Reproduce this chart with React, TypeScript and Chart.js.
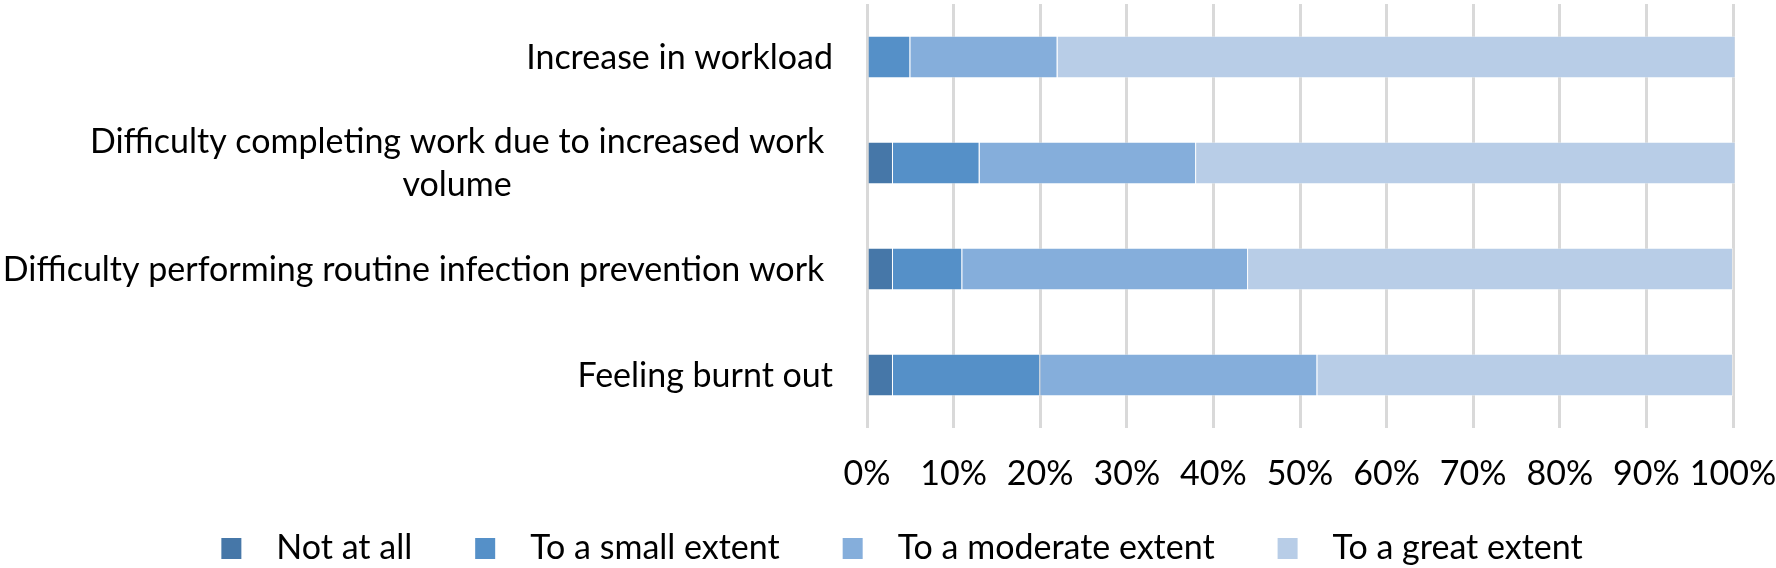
import React, { useEffect, useRef } from "react";
import { Chart, registerables } from "chart.js";

Chart.register(...registerables);

const categories: (string | string[])[] = [
  "Increase in workload",
  ["Difficulty completing work due to increased work ", "volume"],
  "Difficulty performing routine infection prevention work ",
  "Feeling burnt out",
];

const seriesNames = ["Not at all", "To a small extent", "To a moderate extent", "To a great extent"];
const notAtAll = [0, 3, 3, 3];
const smallExtent = [5, 10, 8, 17];
const moderateExtent = [17, 25, 33, 32];
const greatExtent = [78.3, 62.3, 56, 48];
const seriesColors = ["#4677A8", "#5590C8", "#85AEDB", "#B8CDE7"];
const xTickMin = 0;
const xTickMax = 100;
const xTickStep = 10;

const FONT = "Lato";
const FONT_SIZE = 34;

const yLabelPlugin = {
  id: "yLabelPlugin",
  afterDraw(chart: any) {
    const ctx = chart.ctx as CanvasRenderingContext2D;
    const yScale = chart.scales.y;
    ctx.save();
    ctx.font = `${FONT_SIZE}px ${FONT}`;
    ctx.fillStyle = "#000000";
    ctx.textAlign = "left";
    ctx.textBaseline = "alphabetic";
    const right = chart.chartArea.left - 34;
    const lh = 43;
    (chart.data.labels as (string | string[])[]).forEach((lab, i) => {
      const lines = Array.isArray(lab) ? lab : [lab];
      const cy = yScale.getPixelForTick(i);
      if (lines.length === 1) {
        const w = ctx.measureText(lines[0]).width;
        ctx.fillText(lines[0], right - w, cy + 11.5);
        return;
      }
      const first = lines[0];
      const trimmed = first.replace(/\s+$/, "");
      const fullW = ctx.measureText(first).width;
      const trimW = ctx.measureText(trimmed).width;
      const left = right - fullW;
      const centerX = left + trimW / 2;
      lines.forEach((l, j) => {
        const ly = cy + (j - (lines.length - 1) / 2) * lh + 11.5;
        const w = ctx.measureText(l.replace(/\s+$/, "")).width;
        ctx.fillText(l, centerX - w / 2, ly);
      });
    });
    ctx.restore();
  },
};

const legendPlugin = {
  id: "customLegend",
  afterDraw(chart: any) {
    const ctx = chart.ctx as CanvasRenderingContext2D;
    ctx.save();
    ctx.font = `${FONT_SIZE}px ${FONT}`;
    ctx.textAlign = "left";
    ctx.textBaseline = "alphabetic";
    const markerW = 20;
    const markerH = 21;
    const textOffset = 55;
    const gap = 63;
    const items = chart.data.datasets.map((d: any) => ({
      label: d.label as string,
      color: d.backgroundColor as string,
      w: ctx.measureText(d.label).width,
    }));
    let total = 0;
    items.forEach((it: any, i: number) => {
      total += textOffset + it.w + (i < items.length - 1 ? gap : 0);
    });
    const center = 902;
    let x = center - total / 2;
    const baseline = 559;
    items.forEach((it: any) => {
      ctx.fillStyle = it.color;
      ctx.fillRect(x, baseline - markerH, markerW, markerH);
      ctx.fillStyle = "#000000";
      ctx.fillText(it.label, x + textOffset, baseline);
      x += textOffset + it.w + gap;
    });
    ctx.restore();
  },
};

export default function App() {
  const canvasRef = useRef<HTMLCanvasElement | null>(null);

  useEffect(() => {
    document.body.style.margin = "0";
    const canvas = canvasRef.current;
    if (!canvas) return;
    const seriesData = [notAtAll, smallExtent, moderateExtent, greatExtent];
    const chart = new Chart(canvas, {
      type: "bar",
      data: {
        labels: categories,
        datasets: seriesNames.map((name, i) => ({
          label: name,
          data: seriesData[i],
          backgroundColor: seriesColors[i],
          borderColor: "rgba(255,255,255,0.35)",
          borderWidth: 1,
          barPercentage: 0.4,
          categoryPercentage: 1,
          clip: false as any,
        })),
      },
      options: {
        indexAxis: "y",
        responsive: false,
        animation: false,
        maintainAspectRatio: false,
        layout: { padding: { left: 0, right: 43, top: 4, bottom: 72 } },
        plugins: {
          legend: { display: false },
          tooltip: { enabled: false },
          title: { display: false },
        },
        scales: {
          x: {
            stacked: true,
            min: xTickMin,
            max: xTickMax,
            ticks: {
              stepSize: xTickStep,
              callback: (v: any) => `${v}%`,
              color: "#000000",
              font: { family: FONT, size: FONT_SIZE },
              padding: 26,
              maxRotation: 0,
              autoSkip: false,
            },
            grid: { color: "#D9D9D9", lineWidth: 3, drawTicks: false },
            border: { display: false },
            afterFit: (scale: any) => {
              scale.paddingLeft = 0;
              scale.paddingRight = 0;
              scale.height = 68;
            },
          },
          y: {
            stacked: true,
            ticks: { display: false },
            grid: { display: false },
            border: { display: false },
            afterFit: (scale: any) => {
              scale.width = 867;
            },
          },
        },
      },
      plugins: [yLabelPlugin, legendPlugin],
    });
    return () => chart.destroy();
  }, []);

  return (
    <div style={{ width: 1776, height: 568 }}>
      <canvas ref={canvasRef} width={1776} height={568} style={{ width: 1776, height: 568, display: "block" }} />
    </div>
  );
}
